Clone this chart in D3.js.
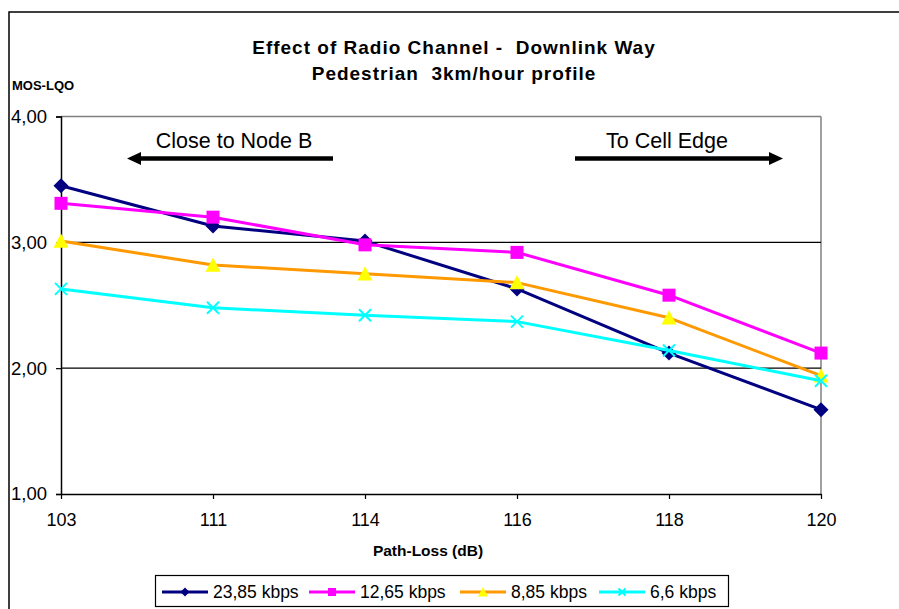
<!DOCTYPE html>
<html>
<head>
<meta charset="utf-8">
<script src="https://cdn.jsdelivr.net/npm/d3@7"></script>
<style>
  html, body { margin: 0; padding: 0; background: #fff; }
  svg { display: block; font-family: Arial, "Liberation Sans", sans-serif; }
  text { white-space: pre; }
</style>
</head>
<body>
<svg id="chart" width="899" height="609"></svg>
<script>
// ---- data ----
const categories = ["103", "111", "114", "116", "118", "120"];
const seriesNames = ["23,85 kbps", "12,65 kbps", "8,85 kbps", "6,6 kbps"];
const s2385 = [3.45, 3.13, 3.01, 2.63, 2.12, 1.67];
const s1265 = [3.31, 3.20, 2.98, 2.92, 2.58, 2.12];
const s885  = [3.01, 2.82, 2.75, 2.68, 2.40, 1.94];
const s66   = [2.63, 2.48, 2.42, 2.37, 2.14, 1.90];
const yTicks = [1, 2, 3, 4];
const titleLines = ["Effect of Radio Channel -  Downlink Way", "Pedestrian  3km/hour profile"];

// ---- styles ----
const styles = [
  { line: "#000080", fill: "#000080", marker: "diamond" },
  { line: "#FF00FF", fill: "#FF00FF", marker: "square" },
  { line: "#FF9900", fill: "#FFFF00", marker: "triangle" },
  { line: "#00FFFF", fill: "#00FFFF", marker: "x" }
];
const allSeries = [s2385, s1265, s885, s66];

const svg = d3.select("#chart");
const L = 61, R = 821, T = 116.5, B = 494;

const x = d3.scalePoint().domain(categories).range([L, R]);
const y = d3.scaleLinear().domain([1, 4]).range([B, T]);

// chart area border
svg.append("rect").attr("x", 9).attr("y", 12).attr("width", 1000).attr("height", 1000)
  .attr("fill", "#fff").attr("stroke", "#000").attr("stroke-width", 1.5);

// titles
svg.selectAll("text.title").data(titleLines).enter().append("text")
  .attr("x", 454).attr("y", (d, i) => 54 + i * 26)
  .attr("text-anchor", "middle").attr("font-weight", "bold").attr("font-size", 19)
  .attr("letter-spacing", 1)
  .text(d => d);

svg.append("text").attr("x", 12).attr("y", 90).attr("font-weight", "bold")
  .attr("font-size", 13).text("MOS-LQO");

// plot border (gray top & right)
svg.append("line").attr("x1", L).attr("x2", R).attr("y1", y(4)).attr("y2", y(4))
  .attr("stroke", "#808080").attr("stroke-width", 1.5);
svg.append("line").attr("x1", R).attr("x2", R).attr("y1", T).attr("y2", B)
  .attr("stroke", "#808080").attr("stroke-width", 1.5);

// gridlines
svg.selectAll("line.grid").data(yTicks.filter(v => v > 1 && v < 4)).enter().append("line")
  .attr("x1", L).attr("x2", R).attr("y1", d => y(d)).attr("y2", d => y(d))
  .attr("stroke", "#000").attr("stroke-width", 1.2);

// axes
const fmt = d => d.toFixed(2).replace(".", ",");
const yAxis = svg.append("g").attr("transform", `translate(${L},0)`)
  .call(d3.axisLeft(y).tickValues(yTicks).tickFormat(fmt).tickSize(5).tickPadding(9));
yAxis.select(".domain").attr("stroke", "#000").attr("stroke-width", 1.5);
yAxis.selectAll(".tick line").attr("stroke", "#000").attr("stroke-width", 1.2);
yAxis.selectAll(".tick text").attr("font-size", 18.5).attr("font-family", "Arial, 'Liberation Sans', sans-serif").attr("fill", "#000");

const xAxis = svg.append("g").attr("transform", `translate(0,${B})`)
  .call(d3.axisBottom(x).tickSize(5).tickPadding(14).tickSizeOuter(0));
xAxis.select(".domain").attr("stroke", "#000").attr("stroke-width", 1.5);
xAxis.selectAll(".tick line").attr("stroke", "#000").attr("stroke-width", 1.2);
xAxis.selectAll(".tick text").attr("font-size", 18).attr("font-family", "Arial, 'Liberation Sans', sans-serif").attr("fill", "#000");

svg.append("text").attr("x", 428).attr("y", 556).attr("text-anchor", "middle")
  .attr("font-weight", "bold").attr("font-size", 15.5).text("Path-Loss (dB)");

// arrows & annotations
function arrow(x1, x2, yy) {
  svg.append("line").attr("x1", x1).attr("x2", x2).attr("y1", yy).attr("y2", yy)
    .attr("stroke", "#000").attr("stroke-width", 4.5);
}
function head(tipX, yy, dir) {
  const len = 14, h = 6.5;
  svg.append("path")
    .attr("d", `M${tipX},${yy} L${tipX - dir * len},${yy - h} L${tipX - dir * len},${yy + h} Z`)
    .attr("fill", "#000");
}
arrow(138, 333, 158.5); head(127, 158.5, -1);
arrow(575, 772, 158.5); head(783, 158.5, 1);
svg.append("text").attr("x", 234).attr("y", 148).attr("text-anchor", "middle")
  .attr("font-size", 21.5).text("Close to Node B");
svg.append("text").attr("x", 667).attr("y", 148).attr("text-anchor", "middle")
  .attr("font-size", 21.5).text("To Cell Edge");

// markers
function drawMarker(g, type, cx, cy, size, st) {
  if (type === "diamond") {
    const r = size / 2;
    g.append("path").attr("d", `M${cx},${cy - r} L${cx + r},${cy} L${cx},${cy + r} L${cx - r},${cy} Z`)
      .attr("fill", st.fill);
  } else if (type === "square") {
    g.append("rect").attr("x", cx - size / 2).attr("y", cy - size / 2).attr("width", size).attr("height", size)
      .attr("fill", st.fill);
  } else if (type === "triangle") {
    const r = size / 2;
    g.append("path").attr("d", `M${cx},${cy - r} L${cx + r},${cy + r * 0.9} L${cx - r},${cy + r * 0.9} Z`)
      .attr("fill", st.fill);
  } else if (type === "x") {
    const r = size / 2;
    g.append("path").attr("d", `M${cx - r},${cy - r} L${cx + r},${cy + r} M${cx - r},${cy + r} L${cx + r},${cy - r}`)
      .attr("stroke", st.fill).attr("stroke-width", 2).attr("fill", "none");
  }
}
const markerSize = { diamond: 15, square: 13, triangle: 15, x: 12 };

const line = d3.line().x((d, i) => x(categories[i])).y(d => y(d));
allSeries.forEach((vals, si) => {
  const st = styles[si];
  const g = svg.append("g");
  g.append("path").datum(vals).attr("d", line).attr("fill", "none")
    .attr("stroke", st.line).attr("stroke-width", 3).attr("stroke-linejoin", "round");
  vals.forEach((v, i) => drawMarker(g, st.marker, x(categories[i]), y(v), markerSize[st.marker], st));
});

// legend
svg.append("rect").attr("x", 155.5).attr("y", 575.5).attr("width", 573).attr("height", 31)
  .attr("fill", "#fff").attr("stroke", "#000").attr("stroke-width", 1.2);
const legX = [162, 309, 460, 599];
const legendSmall = { diamond: 9, square: 8, triangle: 10, x: 7 };
seriesNames.forEach((name, si) => {
  const st = styles[si];
  const g = svg.append("g");
  const lx = legX[si], ly = 592;
  g.append("line").attr("x1", lx).attr("x2", lx + 46).attr("y1", ly).attr("y2", ly)
    .attr("stroke", st.line).attr("stroke-width", 3);
  drawMarker(g, st.marker, lx + 23, ly, legendSmall[st.marker], st);
  g.append("text").attr("x", lx + 51).attr("y", ly + 6).attr("font-size", 17.5).text(name);
});
</script>
</body>
</html>
